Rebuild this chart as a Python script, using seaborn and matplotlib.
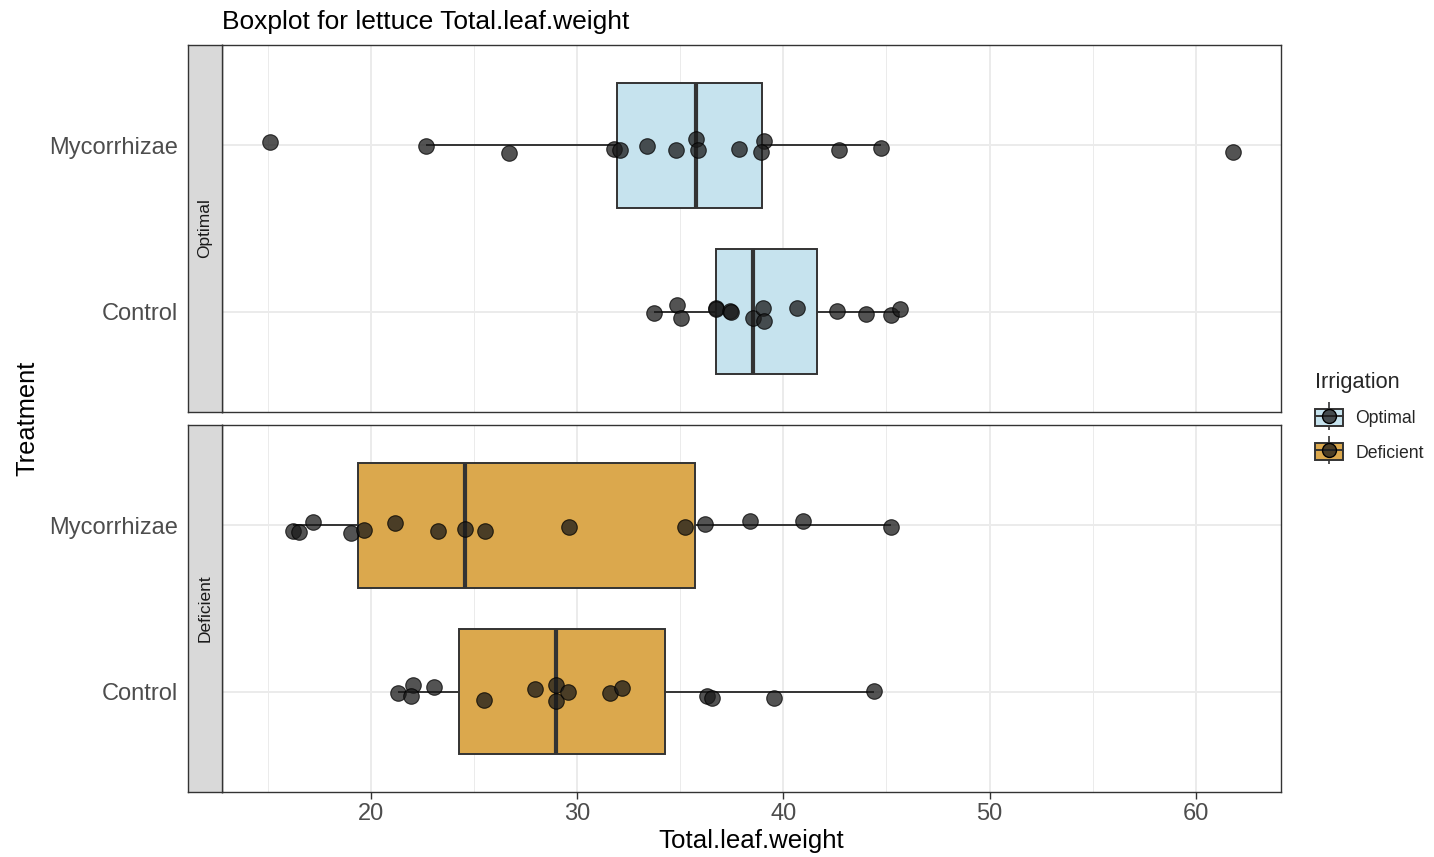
import numpy as np
import pandas as pd
import matplotlib
matplotlib.use("Agg")
import matplotlib.pyplot as plt
import seaborn as sns
from matplotlib.patches import Patch
from matplotlib.lines import Line2D
from matplotlib.legend_handler import HandlerTuple
from matplotlib.ticker import FixedLocator

# ---------------- data ----------------
treatments = ["Mycorrhizae", "Control"]
irrigations = ["Optimal", "Deficient"]

opt_myc = [15.1, 22.66, 26.67, 31.8, 32.09, 33.4, 34.8, 35.77, 35.86, 37.85, 39.06, 38.9, 42.7, 44.76, 61.8]
opt_myc_jitter = [-0.018, 0.006, 0.048, 0.024, 0.030, 0.006, 0.030, -0.036, 0.030, 0.024, -0.024, 0.042, 0.030, 0.018, 0.042]

opt_ctl = [33.74, 34.85, 35.04, 36.73, 36.73, 37.41, 37.46, 38.52, 39.0, 39.06, 40.65, 42.59, 43.99, 45.2, 45.68]
opt_ctl_jitter = [0.006, -0.042, 0.036, -0.024, -0.018, -0.006, 0.0, 0.036, -0.024, 0.054, -0.024, -0.006, 0.012, 0.018, -0.018]

def_myc = [16.23, 16.52, 17.19, 19.03, 19.66, 21.16, 23.24, 24.55, 25.51, 29.62, 35.24, 36.2, 38.38, 40.94, 45.2]
def_myc_jitter = [0.036, 0.042, -0.018, 0.048, 0.030, -0.012, 0.036, 0.024, 0.036, 0.012, 0.012, -0.006, -0.024, -0.024, 0.012]

def_ctl = [21.3, 22.03, 21.96, 23.03, 25.46, 27.93, 28.95, 28.95, 29.53, 31.61, 32.16, 36.32, 36.52, 39.55, 44.42]
def_ctl_jitter = [0.006, -0.042, 0.024, -0.030, 0.048, -0.018, -0.042, 0.054, 0.0, 0.006, -0.024, 0.024, 0.036, 0.036, -0.006]

x_major = [20, 30, 40, 50, 60]
x_minor = [15, 25, 35, 45, 55]

box_colors = {"Optimal": "#C6E3EE", "Deficient": "#DBA84D"}

groups = [
    ("Optimal", "Mycorrhizae", opt_myc, opt_myc_jitter),
    ("Optimal", "Control", opt_ctl, opt_ctl_jitter),
    ("Deficient", "Mycorrhizae", def_myc, def_myc_jitter),
    ("Deficient", "Control", def_ctl, def_ctl_jitter),
]
rows = []
for irr, trt, vals, jit in groups:
    for v, j in zip(vals, jit):
        rows.append({"Irrigation": irr, "Treatment": trt, "weight": v, "jitter": j})
df = pd.DataFrame(rows)

# ---------------- styling ----------------
sns.set_theme(style="white")
plt.rcParams["font.family"] = ["Liberation Sans", "DejaVu Sans"]

W, H = 1434, 857
fig = plt.figure(figsize=(W / 100, H / 100), dpi=100)
fig.patch.set_facecolor("white")

panel_px = {"Optimal": (45, 412), "Deficient": (425, 792)}
tick_col = "#4D4D4D"
line_col = "#333333"

for irr in irrigations:
    top, bot = panel_px[irr]
    ax = fig.add_axes([222 / W, 1 - bot / H, 1059 / W, (bot - top) / H])
    sax = fig.add_axes([188 / W, 1 - bot / H, 34 / W, (bot - top) / H])
    sub = df[df.Irrigation == irr]

    sns.boxplot(data=sub, x="weight", y="Treatment", order=treatments, orient="h",
                color=box_colors[irr], saturation=1, width=0.75, showfliers=False,
                linecolor=line_col, linewidth=1.4,
                medianprops=dict(linewidth=3.0),
                capprops=dict(visible=False), ax=ax)
    ypos = sub.Treatment.map({t: i for i, t in enumerate(treatments)}) + sub.jitter
    sns.scatterplot(x=sub.weight.values, y=ypos.values, ax=ax, s=125, color="#1a1a1a",
                    alpha=0.75, edgecolor="black", linewidth=0.8, legend=False, zorder=5)

    ax.set_xlim(12.77, 64.14)
    ax.set_ylim(1.6, -0.6)
    ax.xaxis.set_major_locator(FixedLocator(x_major))
    ax.xaxis.set_minor_locator(FixedLocator(x_minor))
    ax.set_yticks([0, 1])
    ax.set_axisbelow(True)
    ax.grid(False)
    ax.xaxis.grid(True, which="major", color="#EBEBEB", linewidth=1.4)
    ax.xaxis.grid(True, which="minor", color="#EBEBEB", linewidth=0.7)
    ax.yaxis.grid(True, which="major", color="#EBEBEB", linewidth=1.4)
    ax.set_xlabel("")
    ax.set_ylabel("")
    ax.tick_params(axis="y", left=False, labelleft=False)
    ax.tick_params(axis="x", which="minor", bottom=False)
    if irr == "Deficient":
        ax.tick_params(axis="x", which="major", bottom=True, length=5, width=1,
                       color=line_col, labelsize=17, labelcolor=tick_col, pad=3)
    else:
        ax.tick_params(axis="x", which="major", bottom=False, labelbottom=False)
    for sp in ax.spines.values():
        sp.set_color(line_col)
        sp.set_linewidth(1.0)
        sp.set_visible(True)

    # strip
    sax.set_facecolor("#D9D9D9")
    sax.set_xticks([])
    sax.set_ylim(1.6, -0.6)
    sax.set_yticks([0, 1])
    sax.set_yticklabels(treatments)
    sax.tick_params(axis="y", length=5, width=1, color=line_col, labelsize=17,
                    labelcolor=tick_col, pad=2.5)
    for sp in sax.spines.values():
        sp.set_color(line_col)
        sp.set_linewidth(1.0)
        sp.set_visible(True)
    sax.text(0.5, 0.5, irr, rotation=90, transform=sax.transAxes, ha="center",
             va="center", fontsize=12.5, color="#1A1A1A")

fig.text(222 / W, 1 - 29.5 / H, "Boxplot for lettuce Total.leaf.weight", ha="left",
         va="baseline", fontsize=19, color="black")
fig.text(751.5 / W, 1 - 848 / H, "Total.leaf.weight", ha="center", va="baseline",
         fontsize=18.6, color="black")
fig.text(27 / W, 1 - 418 / H, "Treatment", ha="center", va="center", rotation=90,
         fontsize=18.3, color="black")

handles = []
for irr in irrigations:
    handles.append((
        Line2D([0], [0], marker="|", markersize=20, markeredgewidth=1.2, color=line_col, linestyle="none"),
        Patch(facecolor=box_colors[irr], edgecolor=line_col, linewidth=1.4),
        Line2D([0], [0], color=line_col, linewidth=1.4, marker="o", markersize=10,
               markerfacecolor=(0.1, 0.1, 0.1, 0.75), markeredgecolor="black"),
    ))
fig.legend(handles, irrigations, title="Irrigation", loc="upper left",
           bbox_to_anchor=(1299 / W, 1 - 356 / H), frameon=False, fontsize=12.7,
           title_fontsize=15.7, handler_map={tuple: HandlerTuple(ndivide=1, pad=0)},
           handlelength=1.6, handleheight=1.1, labelspacing=0.9, handletextpad=0.7,
           alignment="left")

fig.savefig("out.png", dpi=100, facecolor="white")
